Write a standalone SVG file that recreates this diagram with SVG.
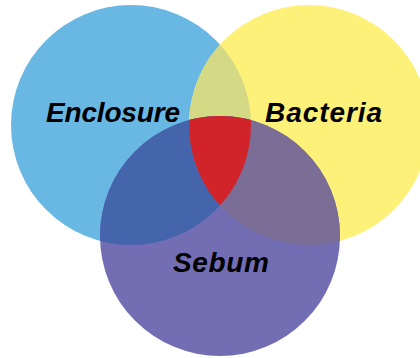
<svg xmlns="http://www.w3.org/2000/svg" width="420" height="358" viewBox="0 0 420 358">
  <style>
    .lbl { font-family: "Liberation Sans", Arial, sans-serif; font-weight: bold; font-style: italic; font-size: 28px; fill: #000; text-anchor: middle; }
  </style>
  <defs>
    <circle id="cBlue" cx="131" cy="125" r="120"/>
    <circle id="cYellow" cx="309" cy="125" r="120"/>
    <circle id="cPurple" cx="220" cy="236" r="120"/>
    <clipPath id="clipBlue"><use href="#cBlue"/></clipPath>
    <clipPath id="clipYellow"><use href="#cYellow"/></clipPath>
    <clipPath id="clipPurple"><use href="#cPurple"/></clipPath>
  </defs>
  <rect width="420" height="358" fill="#ffffff"/>
  <g id="enclosure-circle">
    <use href="#cBlue" fill="#69B8E4"/>
  </g>
  <g id="bacteria-circle">
    <use href="#cYellow" fill="#FEF17A"/>
  </g>
  <g id="sebum-circle">
    <use href="#cPurple" fill="#736DB3"/>
  </g>
  <g id="overlaps">
    <g clip-path="url(#clipBlue)"><use href="#cYellow" fill="#D4D985"/></g>
    <g clip-path="url(#clipBlue)"><use href="#cPurple" fill="#4464AC"/></g>
    <g clip-path="url(#clipYellow)"><use href="#cPurple" fill="#7A6E96"/></g>
    <g clip-path="url(#clipBlue)"><g clip-path="url(#clipYellow)"><use href="#cPurple" fill="#D1232A"/></g></g>
  </g>
  <g id="enclosure">
    <text class="lbl" x="113" y="122" textLength="134" lengthAdjust="spacing">Enclosure</text>
  </g>
  <g id="bacteria">
    <text class="lbl" x="323.5" y="122" textLength="117" lengthAdjust="spacing">Bacteria</text>
  </g>
  <g id="sebum">
    <text class="lbl" x="221" y="272" textLength="96" lengthAdjust="spacing">Sebum</text>
  </g>
</svg>
